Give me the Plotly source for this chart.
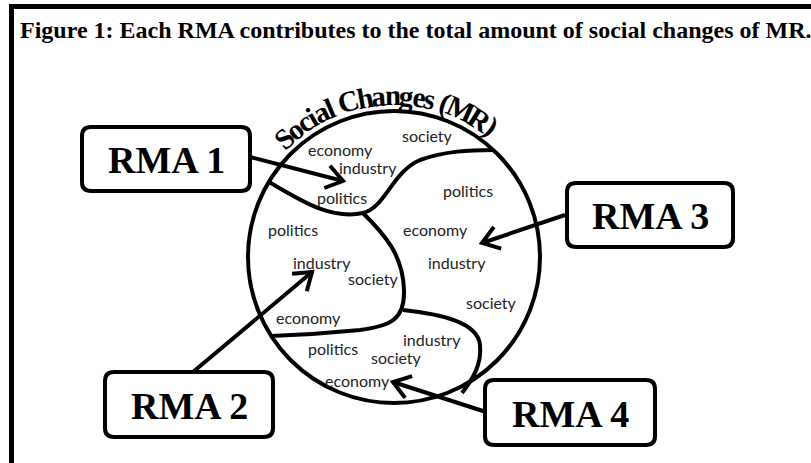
import math
import plotly.graph_objects as go

W, H = 811, 463

# ---- content ----
title_text = "Figure 1: Each RMA contributes to the total amount of social changes of MR."
arc_text = "Social Changes (MR)"

rma_names = ["RMA 1", "RMA 2", "RMA 3", "RMA 4"]
rma_x0 = [82, 105, 567, 485]
rma_x1 = [250, 273, 733, 655]
rma_y0 = [127, 372, 183, 380]
rma_y1 = [191, 437, 247, 445]

arrow_sx = [250, 193, 565, 486]
arrow_sy = [157, 372, 215, 412]
arrow_tx = [343, 312, 482, 393]
arrow_ty = [181, 272, 243, 382]

labels = ["society", "economy", "industry", "politics", "politics", "politics",
          "economy", "industry", "industry", "society", "society", "economy",
          "industry", "politics", "society", "economy"]
label_x = [427, 340, 368, 342, 468, 293, 435, 322, 457, 373, 491, 308, 432, 333, 396, 357]
label_y = [135, 149, 167, 197, 190, 229, 229, 262, 262, 278, 302, 317, 339, 348, 357, 380]

circle_cx, circle_cy, circle_r = 394, 257, 146

curve_paths = [
    "M 269,182 C 300,200 330,220 363,213 C 385,208 392,172 420,160 C 445,151 470,150 493,150",
    "M 363,213 C 385,235 403,255 404,290 C 405,320 390,326 360,330 C 330,333 300,335 271,336",
    "M 403,310 C 440,314 478,322 480,345 C 482,365 472,380 462,393",
]

fig = go.Figure()
shapes = []
annotations = []
LW = 4

# frame
shapes.append(dict(type="line", x0=9, x1=W, y0=6.5, y1=6.5, line=dict(color="black", width=5)))
shapes.append(dict(type="line", x0=11.5, x1=11.5, y0=4, y1=H, line=dict(color="black", width=5)))

# circle
shapes.append(dict(type="circle", x0=circle_cx - circle_r, x1=circle_cx + circle_r,
                   y0=circle_cy - circle_r, y1=circle_cy + circle_r,
                   line=dict(color="black", width=LW)))

for p in curve_paths:
    shapes.append(dict(type="path", path=p, line=dict(color="black", width=LW)))


def rounded_rect(x0, y0, x1, y1, r=9):
    return (f"M {x0+r},{y0} L {x1-r},{y0} Q {x1},{y0} {x1},{y0+r} "
            f"L {x1},{y1-r} Q {x1},{y1} {x1-r},{y1} L {x0+r},{y1} "
            f"Q {x0},{y1} {x0},{y1-r} L {x0},{y0+r} Q {x0},{y0} {x0+r},{y0} Z")


for name, x0, x1, y0, y1 in zip(rma_names, rma_x0, rma_x1, rma_y0, rma_y1):
    shapes.append(dict(type="path", path=rounded_rect(x0, y0, x1, y1),
                       line=dict(color="black", width=LW), fillcolor="white"))
    annotations.append(dict(x=(x0 + x1) / 2, y=(y0 + y1) / 2 + 1, text=f"<b>{name}</b>",
                            showarrow=False, xanchor="center", yanchor="middle",
                            font=dict(family="Liberation Serif", size=38, color="black")))

# arrows
L, ang = 20, math.radians(35)
for sx, sy, tx, ty in zip(arrow_sx, arrow_sy, arrow_tx, arrow_ty):
    shapes.append(dict(type="line", x0=sx, y0=sy, x1=tx, y1=ty, line=dict(color="black", width=LW)))
    dx, dy = sx - tx, sy - ty
    n = math.hypot(dx, dy)
    ux, uy = dx / n, dy / n
    pts = []
    for a in (ang, -ang):
        ca, sa = math.cos(a), math.sin(a)
        pts.append((tx + L * (ux * ca - uy * sa), ty + L * (ux * sa + uy * ca)))
    path = f"M {pts[0][0]:.1f},{pts[0][1]:.1f} L {tx},{ty} L {pts[1][0]:.1f},{pts[1][1]:.1f}"
    shapes.append(dict(type="path", path=path, line=dict(color="black", width=LW)))

# small labels
for t, x, y in zip(labels, label_x, label_y):
    annotations.append(dict(x=x, y=y, text=t, showarrow=False, xanchor="center", yanchor="middle",
                            borderpad=0,
                            font=dict(family="Lato", size=16, color="#222")))

# title
annotations.append(dict(x=18, y=30, text=f"<b>{title_text}</b>", showarrow=False,
                        xanchor="left", yanchor="middle",
                        font=dict(family="Liberation Serif", size=24, color="black")))

# curved text along the circle
tw = {"S": .556, "o": .5, "c": .444, "i": .278, "a": .5, "l": .278, " ": .25, "C": .722,
      "h": .556, "n": .556, "g": .5, "e": .444, "s": .389, "(": .333, "M": .944, "R": .722, ")": .333}
ws = [tw[c] for c in arc_text]
centers = []
acc = 0
for w in ws:
    centers.append(acc + w / 2)
    acc += w
a0, a1 = -43.0, 37.0
span = centers[-1] - centers[0]
R_txt = 162
for ch, c in zip(arc_text, centers):
    if ch == " ":
        continue
    th = a0 + (c - centers[0]) / span * (a1 - a0)
    tr = math.radians(th)
    x = circle_cx + R_txt * math.sin(tr)
    y = circle_cy - R_txt * math.cos(tr)
    annotations.append(dict(x=x, y=y, text=f"<b>{ch}</b>", showarrow=False, textangle=th,
                            xanchor="center", yanchor="middle",
                            font=dict(family="Liberation Serif", size=29, color="black")))

fig.update_layout(
    width=W, height=H, margin=dict(l=0, r=0, t=0, b=0),
    paper_bgcolor="white", plot_bgcolor="white",
    xaxis=dict(range=[0, W], visible=False, fixedrange=True),
    yaxis=dict(range=[H, 0], visible=False, fixedrange=True),
    shapes=shapes, annotations=annotations, showlegend=False,
)
fig.write_html("out.html", config={"displayModeBar": False},
               post_script="document.body.style.margin='0';document.body.style.overflow='hidden';")
